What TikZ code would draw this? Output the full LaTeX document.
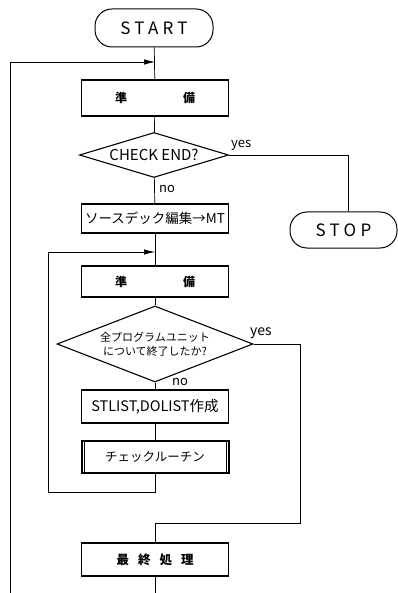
\documentclass[tikz,border=0pt]{standalone}
\usepackage{fontspec}
\setmainfont{Noto Sans CJK JP}
\newfontfamily\spaced[LetterSpace=25]{Noto Sans CJK JP}
\usetikzlibrary{shapes.geometric,arrows.meta}
\tikzset{
  box/.style={draw, line width=1.1pt, minimum width=147pt, inner sep=0pt, font=\fontsize{12}{14}\selectfont},
  boxthick/.style={draw, line width=2pt, minimum width=147pt, inner sep=0pt, font=\fontsize{12}{14}\selectfont},
  term/.style={draw, line width=1pt, rounded corners=17pt, inner sep=0pt, font=\spaced\fontsize{17}{20}\selectfont},
  dec/.style={draw, diamond, line width=1.1pt, inner sep=0pt},
  conn/.style={line width=0.7pt},
  arr/.style={conn, -{Latex[length=11pt,width=5.5pt]}},
  lbl/.style={inner sep=0pt, font=\fontsize{13}{15}\selectfont}
}
\begin{document}
\begin{tikzpicture}[x=1pt,y=-1pt]
\useasboundingbox (0,0) rectangle (397,593);
\node[term, minimum width=118pt, minimum height=38pt] (start) at (154,28) {START};
\node[box, minimum height=36pt, font=\bfseries\fontsize{12}{14}\selectfont] (prep1) at (155,98) {準\hspace{56pt}備};
\node[dec, minimum width=149pt, minimum height=45pt, shape aspect=3.3, font=\fontsize{15}{17}\selectfont] (chk) at (154,155) {CHECK END?};
\node[term, minimum width=107pt, minimum height=36pt] (stop) at (343.5,230) {STOP};
\node[box, minimum height=29pt, font=\fontsize{13.5}{15}\selectfont] (src) at (155,218.5) {ソースデック編集→MT};
\node[box, minimum height=31pt, font=\bfseries\fontsize{12}{14}\selectfont] (prep2) at (155,281.5) {準\hspace{56pt}備};
\node[dec, minimum width=196pt, minimum height=76pt, shape aspect=2.6, align=center, font=\fontsize{11}{14}\selectfont] (chk2) at (155,344) {全プログラムユニット\\について終了したか?};
\node[box, minimum height=33pt, font=\fontsize{14.5}{16}\selectfont] (stl) at (155,406.5) {STLIST,DOLIST作成};
\node[boxthick, minimum height=32pt, font=\fontsize{12.5}{14}\selectfont] (chkr) at (155,457) {チェックルーチン};
\node[box, minimum height=33pt, font=\bfseries\fontsize{12.5}{14}\selectfont] (fin) at (155,559.5) {最\hspace{9pt}終\hspace{9pt}処\hspace{9pt}理};
\draw[line width=0.6pt] ([xshift=3.5pt]chkr.north west) -- ([xshift=3.5pt]chkr.south west);
\draw[line width=0.6pt] ([xshift=-3.5pt]chkr.north east) -- ([xshift=-3.5pt]chkr.south east);
\coordinate (j1) at (155,62);
\coordinate (l1) at (10,593);
\coordinate (j2) at (155,252);
\coordinate (l2) at (48,492);
\coordinate (s1) at (348,156);
\coordinate (y2) at (300,523);
\coordinate (endc) at (155,593);
\draw[conn] (start) -- (prep1);
\draw[arr] (l1) |- (j1);
\draw[conn] (prep1) -- (chk);
\draw[conn] (chk.east) -| (s1 |- stop.north);
\node[lbl, anchor=west] (yes1) at (231,145) {yes};
\draw[conn] (chk) -- (src);
\node[lbl, anchor=west] (no1) at (159,189) {no};
\draw[conn] (src) -- (prep2);
\draw[arr] (chkr) |- (l2) |- (j2);
\draw[conn] (prep2) -- (chk2);
\draw[conn] (chk2.east) -| (y2) -| (fin);
\node[lbl, anchor=west, font=\fontsize{14}{16}\selectfont] (yes2) at (250,333) {yes};
\draw[conn] (chk2) -- (stl);
\node[lbl, anchor=west] (no2) at (172,382) {no};
\draw[conn] (stl) -- (chkr);
\draw[conn] (fin) -- (endc);
\end{tikzpicture}
\end{document}
